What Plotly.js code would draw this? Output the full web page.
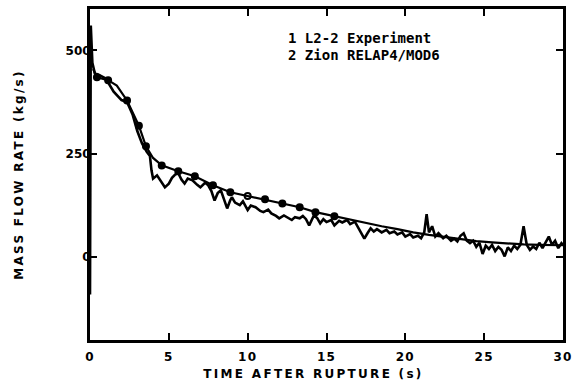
<!DOCTYPE html>
<html>
<head>
<meta charset="utf-8">
<script src="https://cdn.plot.ly/plotly-3.0.1.min.js"></script>
<style>
  html, body { margin: 0; padding: 0; background: #fff; }
  #chart { width: 578px; height: 389px; }
  .xtitle, .ytitle { letter-spacing: 2.3px; }
  .g-xtitle { transform: translateX(-13px); }
  .xtick text { letter-spacing: 1.2px; }
</style>
</head>
<body>
<div id="chart"></div>
<script>
// L2-2 experiment: measured mass flow rate (kg/s) vs time after rupture (s)
const expT = [0, 0.05, 0.15, 0.3, 0.6, 1.0, 1.5, 2.0, 2.35, 2.7, 3.0, 3.3, 3.6, 3.8, 3.9, 4.0,
  4.25, 4.5, 4.75, 5.0, 5.2, 5.4, 5.6, 5.8, 6.0, 6.2, 6.5, 6.8, 7.0, 7.3, 7.5, 7.7, 7.9,
  8.1, 8.3, 8.5, 8.7, 8.9, 9.0, 9.2, 9.5, 9.7, 10.0, 10.2, 10.5, 10.8, 11.0, 11.3, 11.5,
  11.8, 12.0, 12.3, 12.5, 12.8, 13.0, 13.3, 13.5, 13.7, 13.9, 14.2, 14.4, 14.6, 14.8, 15.0,
  15.3, 15.5, 15.8, 16.0, 16.3, 16.5, 16.8, 17.0, 17.2, 17.4, 17.6, 17.8, 18.0, 18.2, 18.5,
  18.8, 19.0, 19.3, 19.5, 19.8, 20.0, 20.3, 20.5, 20.8, 21.0, 21.2, 21.35, 21.5, 21.7, 21.9,
  22.1, 22.4, 22.6, 22.9, 23.1, 23.3, 23.5, 23.7, 23.9, 24.1, 24.3, 24.5, 24.7, 24.9, 25.1,
  25.3, 25.5, 25.7, 25.9, 26.1, 26.3, 26.5, 26.7, 26.9, 27.1, 27.3, 27.5, 27.7, 27.9, 28.1,
  28.3, 28.5, 28.7, 28.9, 29.1, 29.3, 29.5, 29.7, 29.9, 30.0];
const expV = [-90, 560, 470, 445, 440, 432, 400, 380, 375, 345, 305, 275, 255, 245, 210, 190,
  198, 185, 169, 178, 192, 200, 203, 188, 178, 190, 186, 175, 169, 180, 174, 160, 137,
  155, 162, 140, 118, 138, 145, 132, 126, 135, 114, 125, 121, 112, 109, 115, 106,
  100, 94, 101, 97, 90, 97, 94, 100, 92, 77, 101, 95, 82, 92, 85,
  90, 77, 88, 84, 90, 80, 86, 72, 60, 45, 58, 70, 62, 68, 60,
  66, 58, 62, 55, 60, 50, 56, 48, 52, 46, 60, 104, 60, 75, 50,
  58, 46, 52, 40, 45, 38, 52, 58, 40, 34, 40, 25, 35, 8, 28,
  20, 30, 15, 25, 18, 2, 24, 15, 28, 20, 30, 75, 30, 18, 26,
  20, 35, 22, 38, 50, 30, 40, 22, 34, 29];

// Zion RELAP4/MOD6 calculation
const zionT = [0.2, 0.44, 1.15, 1.7, 2.35, 3.1, 3.55, 4.0, 4.55, 5.6, 6.65, 7.8, 8.9, 10.0,
  11.1, 12.2, 13.3, 14.3, 15.5, 16.5, 17.6, 18.5, 19.5, 20.5, 21.5, 22.5, 23.5, 24.5,
  25.5, 26.5, 27.5, 28.5, 29.5, 30.0];
const zionV = [455, 435, 428, 415, 379, 318, 268, 240, 222, 208, 196, 174, 157, 148,
  140, 130, 121, 109, 99, 92, 82, 75, 68, 60, 54, 49, 44, 39,
  36, 33, 31, 30, 29, 29];
// calculated points that carry a plotting symbol
const zionSymbolT = [0.44, 1.15, 2.35, 3.1, 3.55, 4.55, 5.6, 6.65, 7.8, 8.9, 10.0,
  11.1, 12.2, 13.3, 14.3, 15.5];
const zionOpenT = [10.0];

const xTickVals = [0, 5, 10, 15, 20, 25, 30];
const yTickVals = [0, 250, 500];

const legendLines = ['1 L2-2 Experiment', '2 Zion RELAP4/MOD6'];

const symIdx = zionT.map((t, i) => zionSymbolT.includes(t) ? i : -1).filter(i => i >= 0);
const symX = symIdx.map(i => zionT[i]);
const symY = symIdx.map(i => zionV[i]);

const ink = '#000';
const labelFont = { family: 'DejaVu Sans', size: 12, color: ink, weight: 'bold' };
const titleFont = { family: 'DejaVu Sans', size: 12, color: ink, weight: 'bold' };

const traces = [
  {
    x: expT, y: expV, type: 'scatter', mode: 'lines', name: 'L2-2 Experiment',
    line: { color: ink, width: 2.6 }, hoverinfo: 'skip'
  },
  {
    x: zionT, y: zionV, type: 'scatter', mode: 'lines', name: 'Zion RELAP4/MOD6',
    line: { color: ink, width: 2.2 }, hoverinfo: 'skip'
  },
  {
    x: symX, y: symY, type: 'scatter', mode: 'markers', showlegend: false,
    marker: {
      color: ink, size: 6,
      symbol: symX.map(t => zionOpenT.includes(t) ? 'circle-open' : 'circle'),
      line: { color: ink, width: 2 }
    },
    hoverinfo: 'skip'
  }
];

const layout = {
  width: 578, height: 389,
  margin: { l: 90, r: 15, t: 9, b: 49 },
  paper_bgcolor: '#fff', plot_bgcolor: '#fff',
  showlegend: false,
  xaxis: {
    range: [0, 30], tickvals: xTickVals, ticktext: xTickVals.map(String),
    ticks: 'inside', ticklen: 7, tickwidth: 2, tickcolor: ink,
    showline: true, linewidth: 3, linecolor: ink, mirror: 'ticks',
    showgrid: false, zeroline: false,
    tickfont: labelFont, ticklabelstandoff: 4,
    title: { text: 'TIME AFTER RUPTURE (s)', font: titleFont, standoff: 7 }
  },
  yaxis: {
    range: [-200, 600], tickvals: yTickVals, ticktext: yTickVals.map(String),
    ticks: 'inside', ticklen: 7, tickwidth: 2, tickcolor: ink,
    showline: true, linewidth: 3, linecolor: ink, mirror: 'ticks',
    showgrid: false, zeroline: false,
    tickfont: labelFont, ticklabelstandoff: -6,
    title: { text: 'MASS FLOW RATE (kg/s)', font: titleFont, standoff: 40 }
  },
  annotations: legendLines.map((txt, i) => ({
    xref: 'paper', yref: 'paper', x: 0.414, y: 0.912 - i * 0.052,
    xanchor: 'left', yanchor: 'middle', showarrow: false, text: txt,
    font: { family: 'DejaVu Sans Mono', size: 14, color: ink, weight: 'bold' }
  }))
};

Plotly.newPlot('chart', traces, layout, { staticPlot: true, displayModeBar: false });
</script>
</body>
</html>
